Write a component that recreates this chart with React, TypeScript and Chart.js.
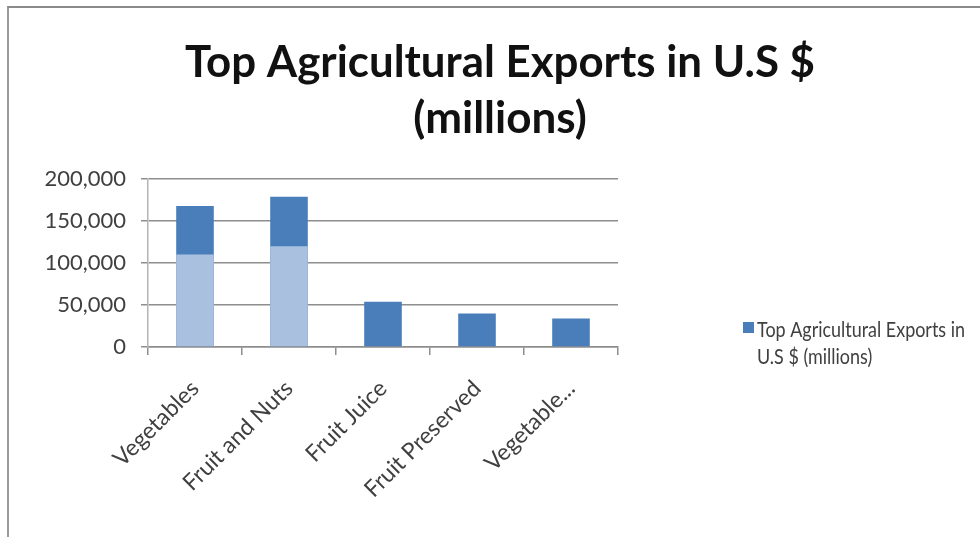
import React, { useEffect, useRef } from "react";
import { Chart, registerables } from "chart.js";

Chart.register(...registerables);

const categories = ["Vegetables", "Fruit and Nuts", "Fruit Juice", "Fruit Preserved", "Vegetable..."];
const exportValues = [168000, 179000, 54000, 40000, 34000];
const lightOverlayValues = [110000, 120000, null, null, null];
const yTicks = [0, 50000, 100000, 150000, 200000];
const titleLines = ["Top Agricultural Exports in U.S $", "(millions)"];
const legendLines = ["Top Agricultural Exports in", "U.S $ (millions)"];
const seriesName = "Top Agricultural Exports in U.S $ (millions)";

const FONT = "Lato, 'Open Sans', sans-serif";
const DARK = "#4a7ebb";
const LIGHT = "#a9c1df";
const TEXT = "#404040";

const titlePlugin = {
  id: "customTitle",
  afterDraw(chart: any) {
    const ctx = chart.ctx;
    ctx.save();
    ctx.fillStyle = "#111111";
    ctx.font = `bold 44px ${FONT}`;
    ctx.textBaseline = "alphabetic";
    ctx.textAlign = "center";
    const targets = [630, 178];
    const baselines = [77, 133];
    titleLines.forEach((t, i) => {
      const w = ctx.measureText(t).width;
      const sx = Math.min(1, targets[i] / w);
      ctx.save();
      ctx.translate(500, baselines[i]);
      ctx.scale(sx, 1);
      ctx.fillText(t, 0, 0);
      ctx.restore();
    });
    ctx.restore();
  },
};

const legendPlugin = {
  id: "customLegend",
  afterDraw(chart: any) {
    const ctx = chart.ctx;
    ctx.save();
    ctx.fillStyle = DARK;
    ctx.fillRect(743, 322, 11, 11);
    ctx.fillStyle = TEXT;
    ctx.font = `21px ${FONT}`;
    ctx.textAlign = "left";
    ctx.textBaseline = "alphabetic";
    const sx = Math.min(1, 208 / ctx.measureText(legendLines[0]).width);
    legendLines.forEach((t, i) => {
      ctx.save();
      ctx.translate(757, 337 + i * 27);
      ctx.scale(sx, 1);
      ctx.fillText(t, 0, 0);
      ctx.restore();
    });
    ctx.restore();
  },
};

export default function App() {
  const ref = useRef<HTMLCanvasElement>(null);
  useEffect(() => {
    if (!ref.current) return;
    const chart = new Chart(ref.current, {
      type: "bar",
      data: {
        labels: categories,
        datasets: [
          {
            label: "overlay",
            data: lightOverlayValues as any,
            backgroundColor: LIGHT,
            order: 0,
            barPercentage: 0.5,
            categoryPercentage: 0.8,
          },
          {
            label: seriesName,
            data: exportValues,
            backgroundColor: DARK,
            order: 1,
            barPercentage: 0.5,
            categoryPercentage: 0.8,
          },
        ],
      },
      options: {
        responsive: false,
        animation: false,
        devicePixelRatio: 1,
        datasets: { bar: { grouped: false } } as any,
        layout: { padding: { left: 8, right: 362, top: 179, bottom: 40 } },
        plugins: {
          legend: { display: false },
          title: { display: false },
          tooltip: { enabled: false },
        },
        scales: {
          x: {
            grid: {
              display: true,
              drawOnChartArea: false,
              drawTicks: true,
              tickLength: 8,
              color: "#8e8e8e",
              lineWidth: 1.5,
              offset: true,
            },
            border: { display: true, color: "#8e8e8e", width: 1.5 },
            ticks: {
              maxRotation: 45,
              minRotation: 45,
              autoSkip: false,
              color: TEXT,
              font: { family: FONT, size: 23 },
              padding: 20,
            },
            afterFit(scale: any) {
              scale.height = 150;
            },
          },
          y: {
            min: 0,
            max: 200000,
            afterBuildTicks(scale: any) {
              scale.ticks = yTicks.map((v) => ({ value: v }));
            },
            grid: {
              color: "#8e8e8e",
              lineWidth: 1.5,
              tickLength: 7,
              drawTicks: true,
            },
            border: { display: true, color: "#b4b4b4", width: 1.5 },
            ticks: {
              color: TEXT,
              font: { family: FONT, size: 22 },
              padding: 15,
              callback: (v: any) => Number(v).toLocaleString("en-US"),
            },
            afterFit(scale: any) {
              scale.width = 140;
            },
          },
        },
      },
      plugins: [titlePlugin, legendPlugin],
    });
    return () => chart.destroy();
  }, []);
  return (
    <div style={{ position: "fixed", left: 0, top: 0, width: 980, height: 537, background: "#fff" }}>
      <canvas ref={ref} width={980} height={537} style={{ position: "absolute", left: 0, top: 0 }} />
      <div
        style={{
          position: "absolute",
          left: 7,
          top: 6,
          width: 973,
          height: 531,
          borderTop: "2px solid #8a8a8a",
          borderLeft: "2px solid #9a9a9a",
          boxSizing: "border-box",
          pointerEvents: "none",
        }}
      />
    </div>
  );
}
